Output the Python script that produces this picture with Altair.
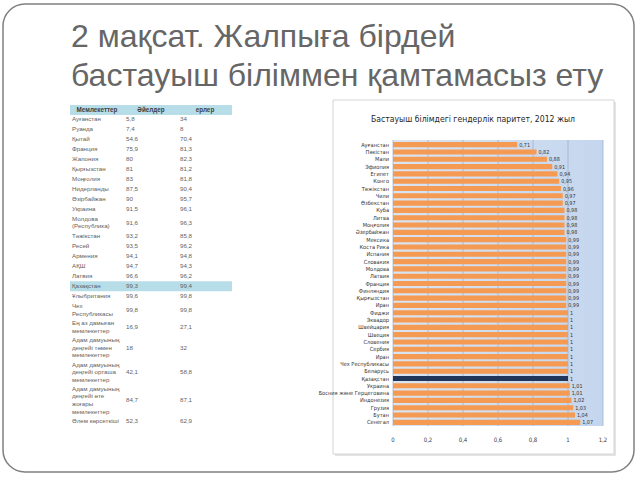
import altair as alt
import pandas as pd

# ---------------- data ----------------
title_lines = ["2 мақсат. Жалпыға бірдей", "бастауыш біліммен қамтамасыз ету"]

table_header = ["Мемлекеттер", "Әйелдер", "ерлер"]
table_names = [
    "Ауғанстан", "Руанда", "Қытай", "Франция", "Жапония", "Қырғызстан",
    "Моңғолия", "Нидерланды", "Әзірбайжан", "Украина", "Молдова\n(Республика)",
    "Тәжікстан", "Ресей", "Армения", "АҚШ", "Латвия", "Қазақстан",
    "Ұлыбритания", "Чех\nРеспубликасы", "Ең аз дамыған\nмемлекеттер",
    "Адам дамуының\nдеңгейі төмен\nмемлекеттер",
    "Адам дамуының\nдеңгейі орташа\nмемлекеттер",
    "Адам дамуының\nдеңгейі өте\nжоғары\nмемлекеттер",
    "Әлем көрсеткіші",
]
table_women = [5.8, 7.4, 54.6, 75.9, 80, 81, 83, 87.5, 90, 91.5, 91.6, 93.2,
               93.5, 94.1, 94.7, 96.6, 99.3, 99.6, 99.8, 16.9, 18, 42.1, 84.7, 52.3]
table_men = [34, 8, 70.4, 81.3, 82.3, 81.2, 81.8, 90.4, 95.7, 96.1, 96.3, 85.8,
             96.2, 94.8, 94.3, 96.2, 99.4, 99.8, 99.8, 27.1, 32, 58.8, 87.1, 62.9]
highlight_name = "Қазақстан"

chart_title = "Бастауыш білімдегі гендерлік паритет, 2012 жыл"
countries = [
    "Ауғанстан", "Пәкістан", "Мали", "Эфиопия", "Египет", "Конго", "Тәжікстан",
    "Чили", "Өзбекстан", "Куба", "Литва", "Моңғолия", "Әзербайжан", "Мексика",
    "Коста Рика", "Испания", "Словакия", "Молдова", "Латвия", "Франция",
    "Финляндия", "Қырғызстан", "Иран", "Фиджи", "Эквадор", "Швейцария",
    "Швеция", "Словения", "Сербия", "Иран", "Чех Республикасы", "Беларусь",
    "Қазақстан", "Украина", "Босния және Герцеговина", "Индонезия", "Грузия",
    "Бутан", "Сенегал",
]
parity = [0.71, 0.82, 0.88, 0.91, 0.94, 0.95, 0.96, 0.97, 0.97, 0.98, 0.98,
          0.98, 0.98, 0.99, 0.99, 0.99, 0.99, 0.99, 0.99, 0.99, 0.99, 0.99,
          0.99, 1, 1, 1, 1, 1, 1, 1, 1, 1, 1, 1.01, 1.01, 1.02, 1.03, 1.04, 1.07]
x_ticks = [0, 0.2, 0.4, 0.6, 0.8, 1, 1.2]


def comma(v):
    return f"{v:g}".replace(".", ",")


# ---------------- styling ----------------
TITLE_FONT = "Liberation Sans"
BODY_FONT = "Liberation Sans"
NARROW = "Liberation Sans Narrow, DejaVu Sans Condensed, Liberation Sans"
TXT = "#5f5f5f"

# table layout (row height from number of text lines)
LINE = 7.2          # row growth per text line
TEXT_LH = 7.6       # line height of multi-line text
PAD = 2.8
TABLE_TOP = 114
line_counts = [n.count("\n") + 1 for n in table_names]
heights = [PAD + LINE * n for n in line_counts]
tops, acc = [], 0.0
for h in heights:
    tops.append(acc)
    acc += h
total = acc
rows = pd.DataFrame({
    "name": table_names,
    "women": [comma(v) for v in table_women],
    "men": [comma(v) for v in table_men],
    "lines": line_counts,
    "top": tops,
    "bottom": [t + h for t, h in zip(tops, heights)],
})
rows["mid"] = (rows["top"] + rows["bottom"]) / 2
long_rows = []
for _, r in rows.iterrows():
    for ci, key in enumerate(["name", "women", "men"]):
        n = r["lines"] if key == "name" else 1
        # first text line placed so the whole block is centred in the row
        long_rows.append({"col": ci, "text": r[key],
                          "ypos": r["mid"] - (n - 1) * TEXT_LH / 2})
cells = pd.DataFrame(long_rows)
header_df = pd.DataFrame({"col": [i + 0.5 for i in range(3)], "text": table_header})

tx = alt.Scale(domain=[0, 3], range=[70, 232], nice=False, zero=False)
ty = alt.Scale(domain=[0, total], range=[TABLE_TOP, TABLE_TOP + total], nice=False, zero=False)

# bar chart scales
xs = alt.Scale(domain=[0, 1.2], range=[393, 603], nice=False, zero=False)
ys = alt.Scale(domain=list(range(len(countries))), range=[141, 426],
               paddingInner=0.3, paddingOuter=0.15)

bars = pd.DataFrame({
    "idx": list(range(len(countries))),
    "country": countries,
    "parity": parity,
    "label": [comma(v) for v in parity],
})
ticks = pd.DataFrame({"t": x_ticks, "label": [comma(v) for v in x_ticks]})
one = pd.DataFrame({"k": [0]})

# ---------------- layers ----------------
slide = alt.Chart(one).mark_rect(
    fill="white", stroke="#808080", strokeWidth=1.5, cornerRadius=22
).encode(x=alt.value(3), x2=alt.value(634), y=alt.value(4), y2=alt.value(472))

title = alt.Chart(pd.DataFrame({"t": ["\n".join(title_lines)]})).mark_text(
    align="left", baseline="alphabetic", font=TITLE_FONT, fontSize=32,
    lineHeight=39, lineBreak="\n", color="#666666"
).encode(x=alt.value(71), y=alt.value(47), text="t:N")

header_band = alt.Chart(one).mark_rect(fill="#b7dde8").encode(
    x=alt.value(70), x2=alt.value(232), y=alt.value(105), y2=alt.value(115))

highlight = alt.Chart(rows).transform_filter(
    alt.datum.name == highlight_name
).mark_rect(fill="#b7dde8").encode(
    x=alt.value(70), x2=alt.value(232),
    y=alt.Y("top:Q", scale=ty, axis=None), y2="bottom:Q")

cell_text = alt.Chart(cells).mark_text(
    align="left", baseline="middle", font=BODY_FONT, fontSize=6.2,
    lineBreak="\n", lineHeight=TEXT_LH, color=TXT, dx=2
).encode(
    x=alt.X("col:Q", scale=tx, axis=None),
    y=alt.Y("ypos:Q", scale=ty, axis=None),
    text="text:N")

header_text = alt.Chart(header_df).mark_text(
    align="center", baseline="middle", font=BODY_FONT, fontSize=6.3,
    fontWeight="bold", color="#404040"
).encode(x=alt.X("col:Q", scale=tx, axis=None), y=alt.value(110), text="text:N")

box_shadow = alt.Chart(one).mark_rect(fill="#e4e4e4").encode(
    x=alt.value(335), x2=alt.value(616), y=alt.value(102), y2=alt.value(456))
box = alt.Chart(one).mark_rect(fill="white", stroke="#d4d4d4", strokeWidth=1).encode(
    x=alt.value(333), x2=alt.value(614), y=alt.value(100), y2=alt.value(454))

ctitle = alt.Chart(pd.DataFrame({"t": [chart_title]})).mark_text(
    align="center", baseline="middle", font=NARROW, fontSize=8.6, color="#262626"
).encode(x=alt.value(473), y=alt.value(119), text="t:N")

plot_bg = alt.Chart(one).mark_rect(
    fill=alt.Gradient(gradient="linear", x1=0, x2=1, y1=0, y2=0,
                      stops=[alt.GradientStop(color="#dae4f2", offset=0),
                             alt.GradientStop(color="#c4d6ee", offset=1)])
).encode(x=alt.value(393), x2=alt.value(603), y=alt.value(140), y2=alt.value(426))

grid = alt.Chart(ticks).mark_rule(color="#9aabc6", strokeWidth=0.7).encode(
    x=alt.X("t:Q", scale=xs, axis=None), y=alt.value(140), y2=alt.value(426))

bar = alt.Chart(bars).mark_bar().encode(
    x=alt.X("parity:Q", scale=xs, axis=None),
    y=alt.Y("idx:O", scale=ys, axis=None),
    color=alt.condition(alt.datum.country == highlight_name,
                        alt.value("#1f3559"), alt.value("#f59a52")))

country_labels = alt.Chart(bars).mark_text(
    align="right", baseline="middle", font=NARROW, fontSize=5.6, color="#333333"
).encode(x=alt.value(389), y=alt.Y("idx:O", scale=ys, axis=None), text="country:N")

value_labels = alt.Chart(bars).mark_text(
    align="left", baseline="middle", font=NARROW, fontSize=5.4, color="#333333", dx=2
).encode(
    x=alt.X("parity:Q", scale=xs, axis=None),
    y=alt.Y("idx:O", scale=ys, axis=None), text="label:N")

tick_labels = alt.Chart(ticks).mark_text(
    align="center", baseline="middle", font=NARROW, fontSize=6, color="#404040"
).encode(x=alt.X("t:Q", scale=xs, axis=None), y=alt.value(440), text="label:N")

chart = alt.layer(
    slide, title, header_band, highlight, cell_text, header_text,
    box_shadow, box, ctitle, plot_bg, grid, bar, country_labels,
    value_labels, tick_labels
).resolve_scale(
    x="independent", y="independent", color="independent"
).properties(
    width=640, height=480, autosize="none", padding=0
).configure_view(stroke=None)

chart.save("out.html", embed_options={"renderer": "svg", "actions": False})
